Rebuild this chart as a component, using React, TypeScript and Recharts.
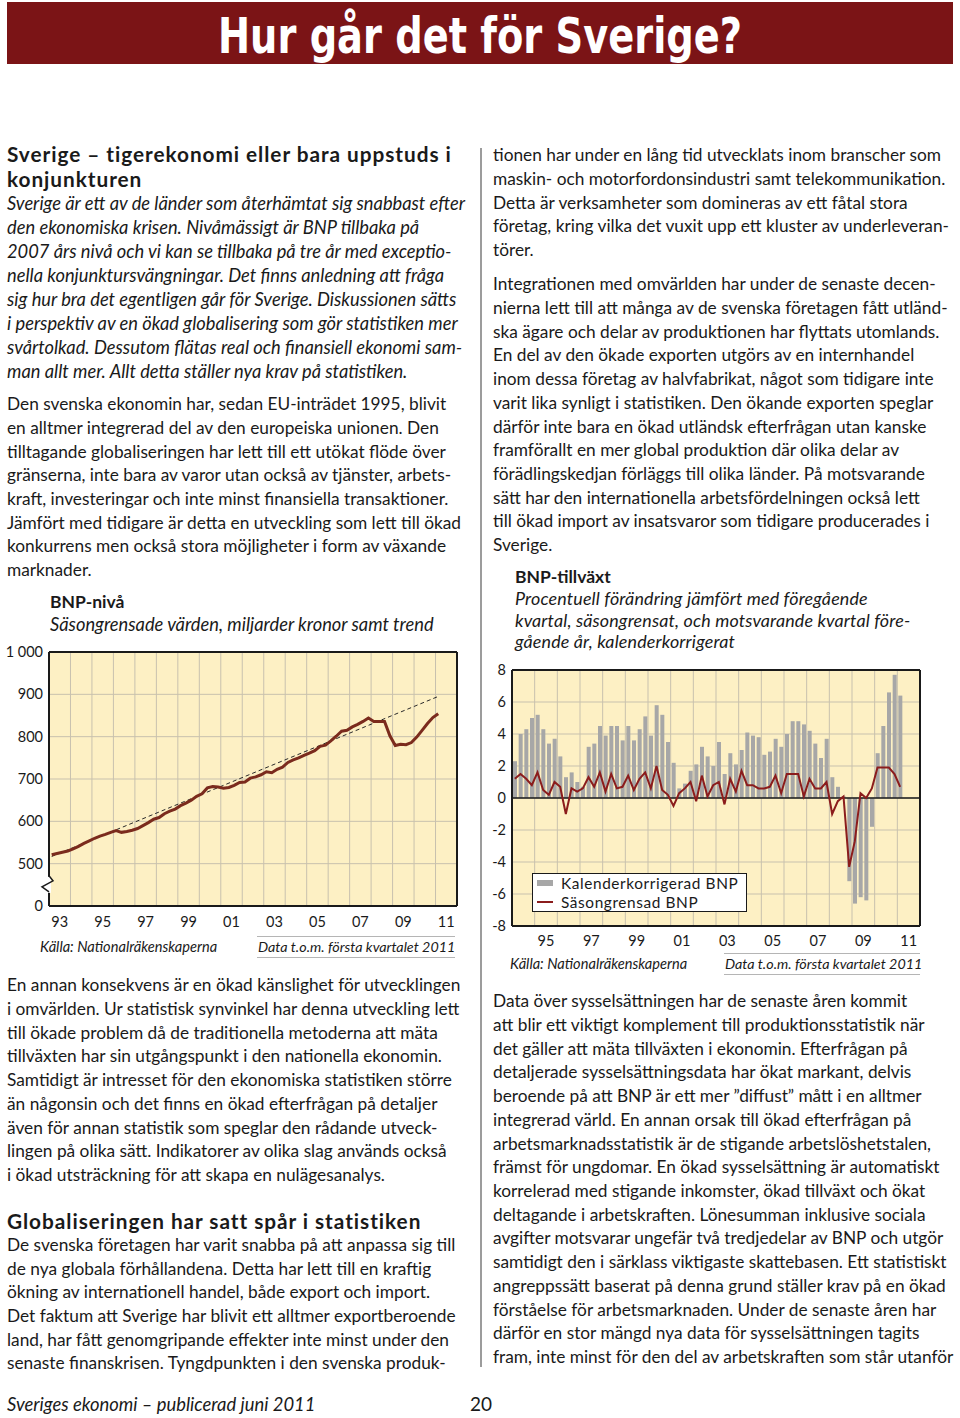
import React from 'react';
import {
  ComposedChart,
  LineChart,
  Line,
  Bar,
  XAxis,
  YAxis,
  CartesianGrid,
  ReferenceLine,
  ReferenceDot,
  Legend,
} from 'recharts';

const FONT = 'Lato, "Open Sans", "DejaVu Sans", sans-serif';
const INK = '#1a1a1a';
const PAPER = '#fdf0c4';
const GRID = '#c8c1ae';
const BODY = 17.3;
const ITAL = 18.3;
const HEAD = 20.8;

// BNP-nivå: säsongrensade värden, miljarder kronor, kvartal 1993K1–2011K1
const levelFirstYear = 1993;
const levelYearCount = 19;
const levelValues = [
  521, 524, 527, 530, 535, 541, 548, 554, 560, 565, 569, 574, 578, 574, 576, 579,
  583, 590, 597, 605, 609, 618, 624, 629, 637, 643, 650, 659, 665, 679, 682, 681,
  678, 680, 685, 692, 693, 702, 705, 710, 717, 715, 723, 728, 739, 745, 750, 756,
  761, 767, 777, 780, 790, 801, 813, 815, 823, 829, 836, 844, 836, 836, 836, 802,
  779, 782, 781, 786, 799, 815, 831, 845, 854,
];
// trend: first and last quarter
const levelTrendEnds = [517, 895];
const levelTickLabels = ['93', '95', '97', '99', '01', '03', '05', '07', '09', '11'];
// 400 stands in for 0 below the axis break
const levelYTicks = [400, 500, 600, 700, 800, 900, 1000];
const levelYLabels = ['0', '500', '600', '700', '800', '900', '1 000'];

// BNP-tillväxt, kvartal 1994K1–2011K1
const growthFirstYear = 1994;
const growthYearCount = 18;
const calendarAdjusted = [
  2.3, 4.0, 4.3, 5.0, 5.2, 4.3, 3.4, 3.7, 2.6, 1.3, 1.6, 1.0, 0.7, 3.2, 3.4, 4.5,
  3.9, 4.5, 4.5, 3.6, 4.5, 3.6, 4.3, 5.1, 3.9, 5.8, 5.2, 3.5, 2.2, 0.6, 0.9, 1.7,
  2.1, 3.2, 2.6, 2.0, 3.5, 1.5, 2.8, 2.1, 3.0, 4.1, 3.9, 3.8, 2.7, 2.9, 3.7, 3.2,
  4.0, 4.8, 4.8, 4.6, 4.2, 3.4, 2.5, 3.7, 1.3, 0.7, 0.1, -5.2, -6.6, -6.2, -6.4, -1.8,
  2.8, 4.5, 6.6, 7.7, 6.4,
];
const seasonallyAdjusted = [
  1.2, 1.5, 1.2, 0.8, 1.6, 0.5, 0.2, 1.0, 0.7, -1.0, 0.6, 0.4, 0.6, 1.3, 0.7, 1.6,
  0.4, 1.5, 0.6, 0.7, 1.4, 0.5, 1.2, 1.6, 0.6, 2.0, 0.5, 0.2, -0.5, 0.3, 0.6, 1.0,
  -0.2, 1.4, 0.1, 0.8, 1.0, -0.4, 1.2, 0.4, 1.7, 0.8, 0.8, 0.6, 0.6, 0.7, 1.4, 0.3,
  1.5, 1.5, 1.5, 0.1, 1.2, 0.6, 0.6, 1.0, -1.0, -0.2, 0.1, -4.3, -2.7, 0.3, 0.0, 0.6,
  1.9, 1.9, 1.9, 1.5, 0.7,
];
const growthTickLabels = ['95', '97', '99', '01', '03', '05', '07', '09', '11'];
const growthYTicks = [-8, -6, -4, -2, 0, 2, 4, 6, 8];

// texts
const leftHeading1 = ['Sverige – tigerekonomi eller bara uppstuds i', 'konjunkturen'];
const leftLead = [
  'Sverige är ett av de länder som återhämtat sig snabbast efter',
  'den ekonomiska krisen. Nivåmässigt är BNP tillbaka på',
  '2007 års nivå och vi kan se tillbaka på tre år med exceptio-',
  'nella konjunktursvängningar. Det finns anledning att fråga',
  'sig hur bra det egentligen går för Sverige. Diskussionen sätts',
  'i perspektiv av en ökad globalisering som gör statistiken mer',
  'svårtolkad. Dessutom flätas real och finansiell ekonomi sam-',
  'man allt mer. Allt detta ställer nya krav på statistiken.',
];
const leftP2 = [
  'Den svenska ekonomin har, sedan EU-inträdet 1995, blivit',
  'en alltmer integrerad del av den europeiska unionen. Den',
  'tilltagande globaliseringen har lett till ett utökat flöde över',
  'gränserna, inte bara av varor utan också av tjänster, arbets-',
  'kraft, investeringar och inte minst finansiella transaktioner.',
  'Jämfört med tidigare är detta en utveckling som lett till ökad',
  'konkurrens men också stora möjligheter i form av växande',
  'marknader.',
];
const leftP3 = [
  'En annan konsekvens är en ökad känslighet för utvecklingen',
  'i omvärlden. Ur statistisk synvinkel har denna utveckling lett',
  'till ökade problem då de traditionella metoderna att mäta',
  'tillväxten har sin utgångspunkt i den nationella ekonomin.',
  'Samtidigt är intresset för den ekonomiska statistiken större',
  'än någonsin och det finns en ökad efterfrågan på detaljer',
  'även för annan statistik som speglar den rådande utveck-',
  'lingen på olika sätt. Indikatorer av olika slag används också',
  'i ökad utsträckning för att skapa en nulägesanalys.',
];
const leftHeading2 = ['Globaliseringen har satt spår i statistiken'];
const leftP4 = [
  'De svenska företagen har varit snabba på att anpassa sig till',
  'de nya globala förhållandena. Detta har lett till en kraftig',
  'ökning av internationell handel, både export och import.',
  'Det faktum att Sverige har blivit ett alltmer exportberoende',
  'land, har fått genomgripande effekter inte minst under den',
  'senaste finanskrisen. Tyngdpunkten i den svenska produk-',
];
const rightP1 = [
  'tionen har under en lång tid utvecklats inom branscher som',
  'maskin- och motorfordonsindustri samt telekommunikation.',
  'Detta är verksamheter som domineras av ett fåtal stora',
  'företag, kring vilka det vuxit upp ett kluster av underleveran-',
  'törer.',
];
const rightP2 = [
  'Integrationen med omvärlden har under de senaste decen-',
  'nierna lett till att många av de svenska företagen fått utländ-',
  'ska ägare och delar av produktionen har flyttats utomlands.',
  'En del av den ökade exporten utgörs av en internhandel',
  'inom dessa företag av halvfabrikat, något som tidigare inte',
  'varit lika synligt i statistiken. Den ökande exporten speglar',
  'därför inte bara en ökad utländsk efterfrågan utan kanske',
  'framförallt en mer global produktion där olika delar av',
  'förädlingskedjan förläggs till olika länder. På motsvarande',
  'sätt har den internationella arbetsfördelningen också lett',
  'till ökad import av insatsvaror som tidigare producerades i',
  'Sverige.',
];
const rightP3 = [
  'Data över sysselsättningen har de senaste åren kommit',
  'att blir ett viktigt komplement till produktionsstatistik när',
  'det gäller att mäta tillväxten i ekonomin. Efterfrågan på',
  'detaljerade sysselsättningsdata har ökat markant, delvis',
  'beroende på att BNP är ett mer ”diffust” mått i en alltmer',
  'integrerad värld. En annan orsak till ökad efterfrågan på',
  'arbetsmarknadsstatistik är de stigande arbetslöshetstalen,',
  'främst för ungdomar. En ökad sysselsättning är automatiskt',
  'korrelerad med stigande inkomster, ökad tillväxt och ökat',
  'deltagande i arbetskraften. Lönesumman inklusive sociala',
  'avgifter motsvarar ungefär två tredjedelar av BNP och utgör',
  'samtidigt den i särklass viktigaste skattebasen. Ett statistiskt',
  'angreppssätt baserat på denna grund ställer krav på en ökad',
  'förståelse för arbetsmarknaden. Under de senaste åren har',
  'därför en stor mängd nya data för sysselsättningen tagits',
  'fram, inte minst för den del av arbetskraften som står utanför',
];
const growthSubtitle = [
  'Procentuell förändring jämfört med föregående',
  'kvartal, säsongrensat, och motsvarande kvartal före-',
  'gående år, kalenderkorrigerat',
];

// helpers
const yearOf = (label: string) => (Number(label) < 50 ? 2000 : 1900) + Number(label);
const midYearTicks = (labels: string[], firstYear: number) =>
  labels.map((l) => (yearOf(l) - firstYear) * 4 + 2);
const yearBounds = (count: number) => Array.from({ length: count + 1 }, (_, k) => k * 4);

const levelData = levelValues.map((v, i) => ({ t: i + 0.5, level: v }));
const trendData = [
  { t: 0.5, trend: levelTrendEnds[0] },
  { t: levelValues.length - 0.5, trend: levelTrendEnds[1] },
];
const growthData = calendarAdjusted.map((v, i) => ({
  t: i + 0.5,
  cal: v,
  sa: seasonallyAdjusted[i],
}));

const levelXTicks = midYearTicks(levelTickLabels, levelFirstYear);
const growthXTicks = midYearTicks(growthTickLabels, growthFirstYear);

const tickStyle = { fontSize: 14.5, fill: INK, fontFamily: FONT };

type BlockProps = {
  x: number;
  y: number;
  step: number;
  lines: string[];
  size?: number;
  italic?: boolean;
  bold?: boolean;
  spacing?: number;
};

const TextBlock = ({ x, y, step, lines, size = BODY, italic, bold, spacing = 0 }: BlockProps) => (
  <>
    {lines.map((line, k) => (
      <div
        key={k}
        style={{
          position: 'absolute',
          left: x,
          top: y + k * step - step / 2 - 1,
          height: step,
          lineHeight: `${step}px`,
          fontSize: size,
          fontStyle: italic ? 'italic' : 'normal',
          fontWeight: bold ? 700 : 400,
          letterSpacing: spacing,
          whiteSpace: 'nowrap',
        }}
      >
        {line}
      </div>
    ))}
  </>
);

const AxisBreak = (props: any) => {
  const { cx, cy } = props;
  return (
    <g>
      <rect x={cx - 2} y={cy - 8} width={4} height={16} fill="#fff" />
      <path
        d={`M${cx},${cy - 9} L${cx + 4},${cy - 4} L${cx - 7},${cy + 2} L${cx},${cy + 7}`}
        fill="none"
        stroke={INK}
        strokeWidth={1.5}
      />
    </g>
  );
};

const GrowthLegend = (props: any) => {
  const items = [...(props.payload || [])].sort(
    (a: any, b: any) => (a.type === 'line' ? 1 : 0) - (b.type === 'line' ? 1 : 0)
  );
  return (
    <div
      style={{
        width: 215,
        height: 39,
        boxSizing: 'border-box',
        background: '#fff',
        border: `1px solid ${INK}`,
        padding: '0 0 0 4px',
        fontFamily: FONT,
        fontSize: 15.4,
        letterSpacing: 0.6,
        lineHeight: '18.5px',
        color: INK,
        textAlign: 'left',
      }}
    >
      {items.map((it: any) => (
        <div key={it.value} style={{ display: 'flex', alignItems: 'center', whiteSpace: 'nowrap', height: 18.5 }}>
          <span
            style={{
              display: 'inline-block',
              width: 16,
              height: it.type === 'line' ? 2.5 : 6,
              background: it.color,
              marginRight: 8,
            }}
          />
          {it.value}
        </div>
      ))}
    </div>
  );
};

const SourceRow = ({ left, right, top, rightX, width }: any) => (
  <>
    <div style={{ position: 'absolute', left, top: top - 10, fontSize: 14.6, fontStyle: 'italic', lineHeight: '20px' }}>
      Källa: Nationalräkenskaperna
    </div>
    <div style={{ position: 'absolute', left: rightX - 1, top: top - 11, width, height: 20, borderTop: '1px solid #b5b5b5', borderBottom: '1px solid #b5b5b5' }} />
    <div style={{ position: 'absolute', left: rightX, top: top - 10, fontSize: 14.3, fontStyle: 'italic', lineHeight: '20px' }}>
      {right}
    </div>
  </>
);

const LevelChart = () => (
  <LineChart width={470} height={300} data={levelData} margin={{ top: 12, right: 13, bottom: 4, left: 0 }}>
    <XAxis xAxisId="grid" dataKey="t" type="number" domain={[0, levelYearCount * 4]} ticks={yearBounds(levelYearCount)} hide />
    <CartesianGrid xAxisId="grid" fill={PAPER} stroke={GRID} strokeWidth={1} />
    <XAxis
      dataKey="t"
      type="number"
      domain={[0, levelYearCount * 4]}
      ticks={levelXTicks}
      tickFormatter={(v: number) => levelTickLabels[levelXTicks.indexOf(v)]}
      axisLine={{ stroke: INK, strokeWidth: 2 }}
      tickLine={false}
      tickSize={0}
      tickMargin={11}
      height={30}
      tick={tickStyle}
      interval={0}
    />
    <YAxis
      type="number"
      domain={[400, 1000]}
      ticks={levelYTicks}
      tickFormatter={(v: number) => levelYLabels[levelYTicks.indexOf(v)]}
      axisLine={{ stroke: INK, strokeWidth: 2 }}
      tickLine={false}
      tickSize={0}
      tickMargin={6}
      width={49}
      tick={tickStyle}
      interval={0}
    />
    <ReferenceLine y={1000} stroke={INK} strokeWidth={2} />
    <ReferenceLine x={levelYearCount * 4} stroke={INK} strokeWidth={2} />
    <Line
      data={trendData}
      dataKey="trend"
      type="linear"
      stroke="#2a2a2a"
      strokeWidth={1}
      strokeDasharray="4 3"
      dot={false}
      isAnimationActive={false}
    />
    <Line
      dataKey="level"
      type="linear"
      stroke="#7b2b1d"
      strokeWidth={3}
      dot={false}
      isAnimationActive={false}
    />
    <ReferenceDot x={0} y={450} r={0} shape={<AxisBreak />} />
  </LineChart>
);

const GrowthChart = () => (
  <ComposedChart width={440} height={300} data={growthData} margin={{ top: 10, right: 10, bottom: 4, left: 0 }}>
    <XAxis xAxisId="grid" dataKey="t" type="number" domain={[0, growthYearCount * 4]} ticks={yearBounds(growthYearCount)} hide />
    <CartesianGrid xAxisId="grid" fill={PAPER} stroke={GRID} strokeWidth={1} />
    <XAxis
      dataKey="t"
      type="number"
      domain={[0, growthYearCount * 4]}
      ticks={growthXTicks}
      tickFormatter={(v: number) => growthTickLabels[growthXTicks.indexOf(v)]}
      axisLine={{ stroke: INK, strokeWidth: 2 }}
      tickLine={false}
      tickSize={0}
      tickMargin={10}
      height={30}
      tick={tickStyle}
      interval={0}
    />
    <YAxis
      type="number"
      domain={[-8, 8]}
      ticks={growthYTicks}
      axisLine={{ stroke: INK, strokeWidth: 2 }}
      tickLine={false}
      tickSize={0}
      tickMargin={6}
      width={22}
      tick={tickStyle}
      interval={0}
    />
    <ReferenceLine y={8} stroke={INK} strokeWidth={2} />
    <ReferenceLine x={growthYearCount * 4} stroke={INK} strokeWidth={2} />
    <Bar
      dataKey="cal"
      name="Kalenderkorrigerad BNP"
      fill="#a7a7a7"
      barSize={4}
      legendType="rect"
      isAnimationActive={false}
    />
    <ReferenceLine y={0} stroke={INK} strokeWidth={1.5} />
    <Line
      dataKey="sa"
      name="Säsongrensad BNP"
      type="linear"
      stroke="#8b1c1c"
      strokeWidth={2}
      dot={false}
      legendType="line"
      isAnimationActive={false}
    />
    <Legend
      layout="vertical"
      align="center"
      verticalAlign="middle"
      wrapperStyle={{ left: 42, top: 213, width: 215 }}
      content={<GrowthLegend />}
    />
  </ComposedChart>
);

export default function App() {
  return (
    <div
      style={{
        position: 'absolute',
        left: 0,
        top: 0,
        width: 960,
        height: 1418,
        overflow: 'hidden',
        background: '#fff',
        color: INK,
        fontFamily: FONT,
      }}
    >
      <svg width={960} height={68} style={{ position: 'absolute', left: 0, top: 0 }}>
        <rect x={7} y={2} width={946} height={62} fill="#7b1416" />
        <text
          x={480}
          y={53}
          textAnchor="middle"
          fill="#fff"
          fontSize={50}
          fontWeight={700}
          fontFamily='"Liberation Sans Narrow", "DejaVu Sans Condensed", "Liberation Sans", sans-serif'
          textLength={524}
          lengthAdjust="spacingAndGlyphs"
        >
          Hur går det för Sverige?
        </text>
      </svg>

      <div style={{ position: 'absolute', left: 480, top: 148, width: 1.5, height: 1219, background: '#9c9c9c' }} />

      {/* left column */}
      <TextBlock x={7} y={154} step={25} lines={leftHeading1} size={HEAD} spacing={0.95} bold />
      <TextBlock x={7} y={204} step={24} lines={leftLead} size={ITAL} italic />
      <TextBlock x={7} y={405} step={23.7} lines={leftP2} />

      <TextBlock x={50} y={603} step={22} lines={['BNP-nivå']} size={17.5} bold />
      <TextBlock x={50} y={625} step={22} lines={['Säsongrensade värden, miljarder kronor samt trend']} size={ITAL} italic />
      <div style={{ position: 'absolute', left: 0, top: 640 }}>
        <LevelChart />
      </div>
      <SourceRow left={40} top={947} rightX={258} width={198} right="Data t.o.m. första kvartalet 2011" />

      <TextBlock x={7} y={986} step={23.75} lines={leftP3} />
      <TextBlock x={7} y={1221} step={25} lines={leftHeading2} size={HEAD} spacing={0.95} bold />
      <TextBlock x={7} y={1246} step={23.6} lines={leftP4} />

      {/* right column */}
      <TextBlock x={493} y={156} step={23.75} lines={rightP1} />
      <TextBlock x={493} y={285} step={23.73} lines={rightP2} />

      <TextBlock x={515} y={578} step={22} lines={['BNP-tillväxt']} size={17.5} bold />
      <TextBlock x={515} y={600} step={21.5} lines={growthSubtitle} size={17.9} spacing={0.15} italic />
      <div style={{ position: 'absolute', left: 490, top: 660 }}>
        <GrowthChart />
      </div>
      <SourceRow left={510} top={964} rightX={725} width={196} right="Data t.o.m. första kvartalet 2011" />

      <TextBlock x={493} y={1002} step={23.73} lines={rightP3} />

      {/* footer */}
      <TextBlock x={7} y={1405} step={22} lines={['Sveriges ekonomi – publicerad juni 2011']} size={18.4} italic />
      <TextBlock x={470} y={1405} step={22} lines={['20']} size={19} />
    </div>
  );
}
